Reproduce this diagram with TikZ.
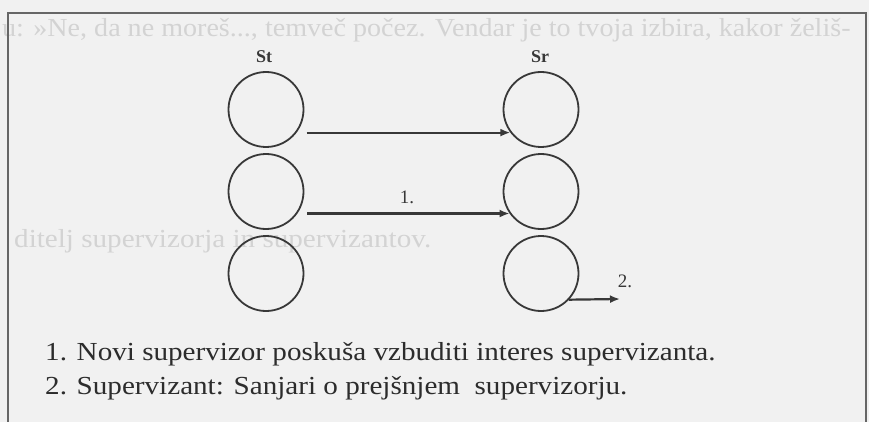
\documentclass[tikz,border=0pt]{standalone}
\usepackage{fontspec}
\setmainfont{Liberation Serif}
\usetikzlibrary{arrows.meta}
\definecolor{pagebg}{HTML}{F1F1F1}
\definecolor{ink}{HTML}{383838}
\definecolor{captionink}{HTML}{2C2C2C}
\definecolor{bleed}{HTML}{D3D3D3}
\definecolor{framec}{HTML}{666666}
\newcommand{\wide}[1]{\scalebox{1.12}[1]{#1}}
\newcommand{\ghostwide}[1]{\scalebox{1.08}[1]{#1}}
\tikzset{
  ring/.style={circle, draw=ink, line width=1.8pt, minimum size=75pt, inner sep=0pt},
  arr/.style={draw=ink, line width=2.2pt, -{Latex[length=10pt,width=8pt]}},
  lab/.style={text=ink, font=\fontsize{19}{19}\selectfont, inner sep=0pt},
  head/.style={text=ink, font=\fontsize{18}{18}\selectfont\bfseries, inner sep=0pt},
  caption/.style={text=captionink, font=\fontsize{26}{26}\selectfont, inner sep=0pt, anchor=base west},
  ghost/.style={text=bleed, font=\fontsize{26}{26}\selectfont, inner sep=0pt, anchor=base west}
}
\begin{document}
\begin{tikzpicture}[x=1pt,y=-1pt]
\useasboundingbox (0,0) rectangle (869,422);
\fill[pagebg] (0,0) rectangle (869,422);
% faint show-through text of the page
\node[ghost] (g1) at (2,37) {\ghostwide{u: »Ne, da ne moreš..., temveč počez. Vendar je to tvoja izbira, kakor želiš-}};
\node[ghost] (g3) at (14,247) {\wide{ditelj supervizorja in supervizantov.}};
% frame
\draw[framec, line width=2pt] (8,440) -- (8,13) -- (866,13) -- (866,440);
% circles
\node[ring] (l1) at (266,109.5) {};
\node[ring] (l2) at (266,191.5) {};
\node[ring] (l3) at (266,273.5) {};
\node[ring] (r1) at (541,109.5) {};
\node[ring] (r2) at (541,191.5) {};
\node[ring] (r3) at (541,273.5) {};
% headings
\node[head] (st) at (264,57) {St};
\node[head] (sr) at (540,57) {Sr};
% arrows
\draw[arr] ([xshift=10pt]l1.-37) -- (r1.-143);
\draw[arr] ([xshift=10pt]l2.-35) -- (r2.-145);
\coordinate (e2) at (620,299);
\draw[arr] (r3.-43) -- (e2);
\node[lab] (n1) at (407,197) {1.};
\node[lab] (n2) at (625,281) {2.};
% captions
\node[caption] (c1) at (45,360) {\wide{1. Novi supervizor poskuša vzbuditi interes supervizanta.}};
\node[caption] (c2) at (45,394) {\wide{2. Supervizant: Sanjari o prejšnjem\ \ supervizorju.}};
\end{tikzpicture}
\end{document}
